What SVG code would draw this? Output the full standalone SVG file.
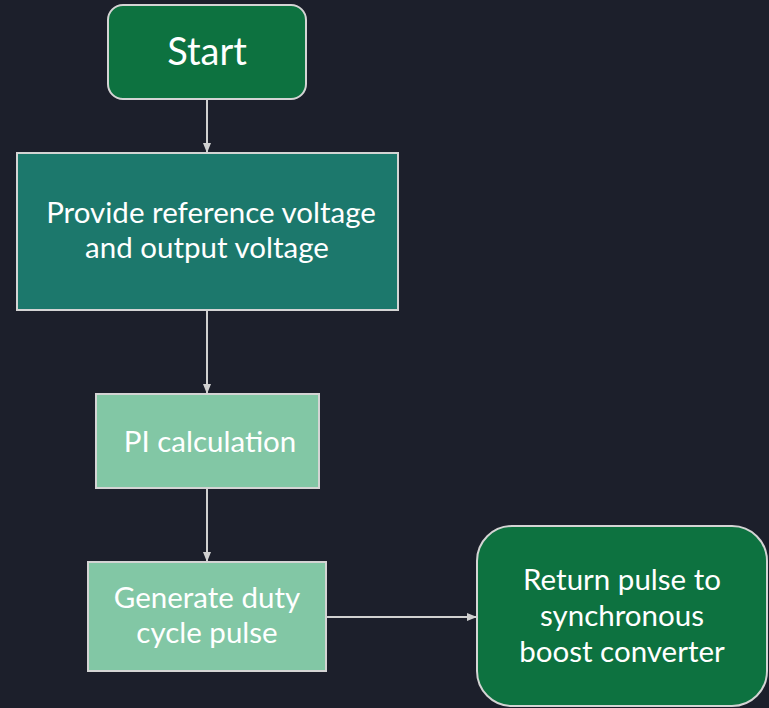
<svg xmlns="http://www.w3.org/2000/svg" width="769" height="708" viewBox="0 0 769 708">
<defs>
<style>
.t{font-family:Lato,"Liberation Sans",sans-serif;fill:#ffffff;text-anchor:middle;font-size:29.5px}
.b{stroke:#d4d4d4;stroke-width:2}
.c{stroke:#d0d0d0;stroke-width:2;fill:none;marker-end:url(#ah)}
</style>
<marker id="ah" markerWidth="10" markerHeight="10" refX="9" refY="5" orient="auto" markerUnits="userSpaceOnUse">
<path d="M0,1 L10,5 L0,9 Z" fill="#d0d0d0"/>
</marker>
</defs>
<rect width="769" height="708" fill="#1c1f2b"/>
<g id="connectors">
<path class="c" d="M207,99 V152"/>
<path class="c" d="M207,310 V393"/>
<path class="c" d="M207,488 V561"/>
<path class="c" d="M326,617 H476"/>
</g>
<g id="start">
<rect class="b" x="108" y="5" width="198" height="94" rx="15" fill="#0d7240"/>
<text class="t" x="207" y="65" style="font-size:38px">Start</text>
</g>
<g id="provide">
<rect class="b" x="17" y="153" width="381" height="157" fill="#1c786c"/>
<text class="t" x="211" y="223">Provide reference voltage</text>
<text class="t" x="207" y="258">and output voltage</text>
</g>
<g id="pi">
<rect class="b" x="96" y="394" width="223" height="94" fill="#82c7a5"/>
<text class="t" x="210" y="452">PI calculation</text>
</g>
<g id="generate">
<rect class="b" x="88" y="562" width="238" height="109" fill="#82c7a5"/>
<text class="t" x="207" y="608">Generate duty</text>
<text class="t" x="207" y="643">cycle pulse</text>
</g>
<g id="return">
<rect class="b" x="477" y="526" width="290" height="180" rx="35" fill="#0d7240"/>
<text class="t" x="622" y="590">Return pulse to</text>
<text class="t" x="622" y="626">synchronous</text>
<text class="t" x="622" y="662">boost converter</text>
</g>
</svg>
